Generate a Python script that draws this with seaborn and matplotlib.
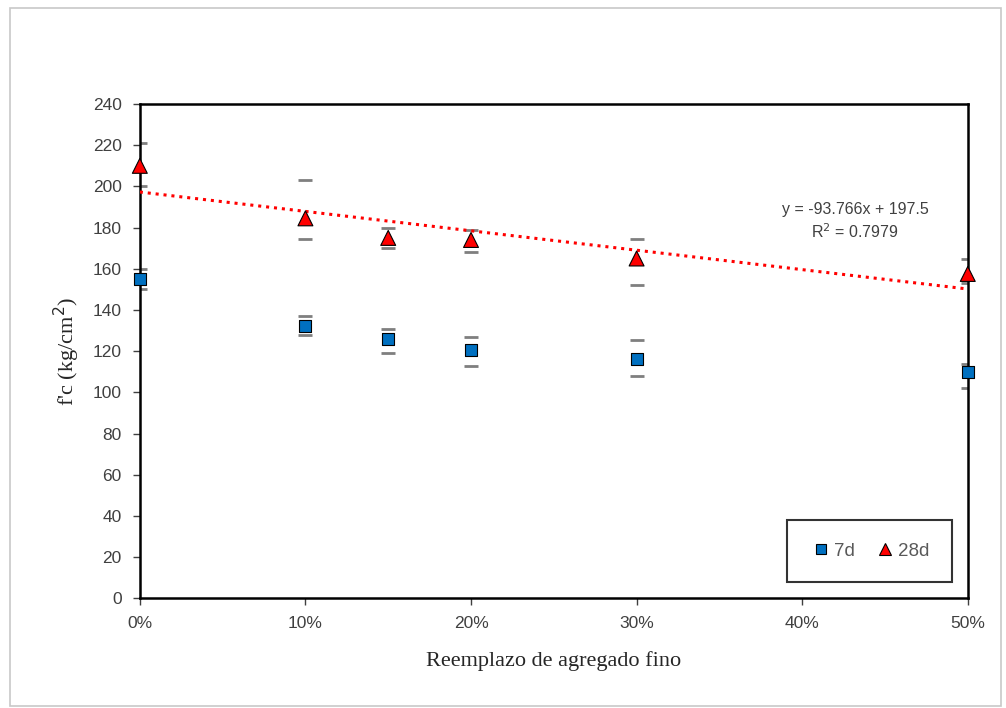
import numpy as np
import pandas as pd
import matplotlib
matplotlib.use("Agg")
import matplotlib.pyplot as plt
import seaborn as sb

# replacement of fine aggregate (fraction)
reemplazo = [0.0, 0.10, 0.15, 0.20, 0.30, 0.50]
# compressive strength, kg/cm2
fc_7d = [155, 132, 126, 120.5, 116, 110]
fc_28d = [210, 184.5, 175, 174, 165, 157.5]
# error bar ends
sup_7d = [160, 137, 131, 127, 125.5, 114]
inf_7d = [150, 128, 119, 113, 108, 102]
sup_28d = [221, 203, 180, 179, 174.5, 165]
inf_28d = [200, 174.5, 170, 168, 152, 153]

df = pd.DataFrame({
    "x": reemplazo * 2,
    "fc": fc_7d + fc_28d,
    "edad": ["7d"] * 6 + ["28d"] * 6,
})

sb.set_style("white")
plt.rcParams["font.family"] = ["Liberation Sans", "DejaVu Sans"]

fig = plt.figure(figsize=(10.06, 7.08), dpi=100)
ax = fig.add_axes([0.139, 0.155, 0.823, 0.698])

# outer chart frame
fig.patches.append(plt.Rectangle((0.010, 0.003), 0.985, 0.985, transform=fig.transFigure,
                                 fill=False, edgecolor="#c8c8c8", linewidth=1.2))

# error bar caps (grey, no stem)
for v, lo, hi in [(fc_7d, inf_7d, sup_7d), (fc_28d, inf_28d, sup_28d)]:
    v = np.array(v)
    yerr = [v - np.array(lo), np.array(hi) - v]
    ax.errorbar(reemplazo, v, yerr=yerr, fmt="none", ecolor="#7f7f7f",
                elinewidth=0, capsize=5, capthick=2, zorder=2)

# trend line for 28d
m, b = np.polyfit(reemplazo, fc_28d, 1)
xs = np.array([0.0, 0.5])
ax.plot(xs, m * xs + b, linestyle=(0, (1, 1.6)), color="#ff0000", linewidth=2.2, zorder=3)
ax.text(0.432, 183, "y = -93.766x + 197.5\nR$^2$ = 0.7979", ha="center", va="center",
        fontsize=11.5, color="#404040", linespacing=1.3)

sb.scatterplot(data=df, x="x", y="fc", hue="edad", style="edad", size="edad",
               palette={"7d": "#0070c0", "28d": "#ff0000"},
               markers={"7d": "s", "28d": "^"},
               sizes={"7d": 75, "28d": 115}, edgecolor="black", linewidth=0.8,
               ax=ax, zorder=4, clip_on=False)

ax.set_xlim(0, 0.5)
ax.set_ylim(0, 240)
ax.set_xticks([0, 0.1, 0.2, 0.3, 0.4, 0.5])
ax.set_xticklabels(["0%", "10%", "20%", "30%", "40%", "50%"])
ax.set_yticks(range(0, 241, 20))
ax.tick_params(axis="both", labelsize=12.5, colors="#404040", direction="out",
               length=5, width=1, left=True, bottom=True, pad=8)
for s in ax.spines.values():
    s.set_color("black")
    s.set_linewidth(1.8)

ax.set_xlabel("Reemplazo de agregado fino", fontsize=16, family="Liberation Serif",
              color="#262626", labelpad=14)
ax.set_ylabel("f'c (kg/cm$^2$)", fontsize=16, family="Liberation Serif",
              color="#262626", labelpad=8)

handles, labels = ax.get_legend_handles_labels()
leg = ax.legend(handles, labels, loc="lower right", bbox_to_anchor=(0.9807, 0.032),
                borderaxespad=0, ncol=2, frameon=True, fontsize=13.5, handletextpad=0.1,
                columnspacing=1.0, handlelength=1.2, borderpad=1.2,
                markerscale=0.75, fancybox=False)
leg.get_frame().set_edgecolor("black")
leg.get_frame().set_linewidth(1.5)
for t in leg.get_texts():
    t.set_color("#595959")

fig.savefig("out.png", dpi=100)
